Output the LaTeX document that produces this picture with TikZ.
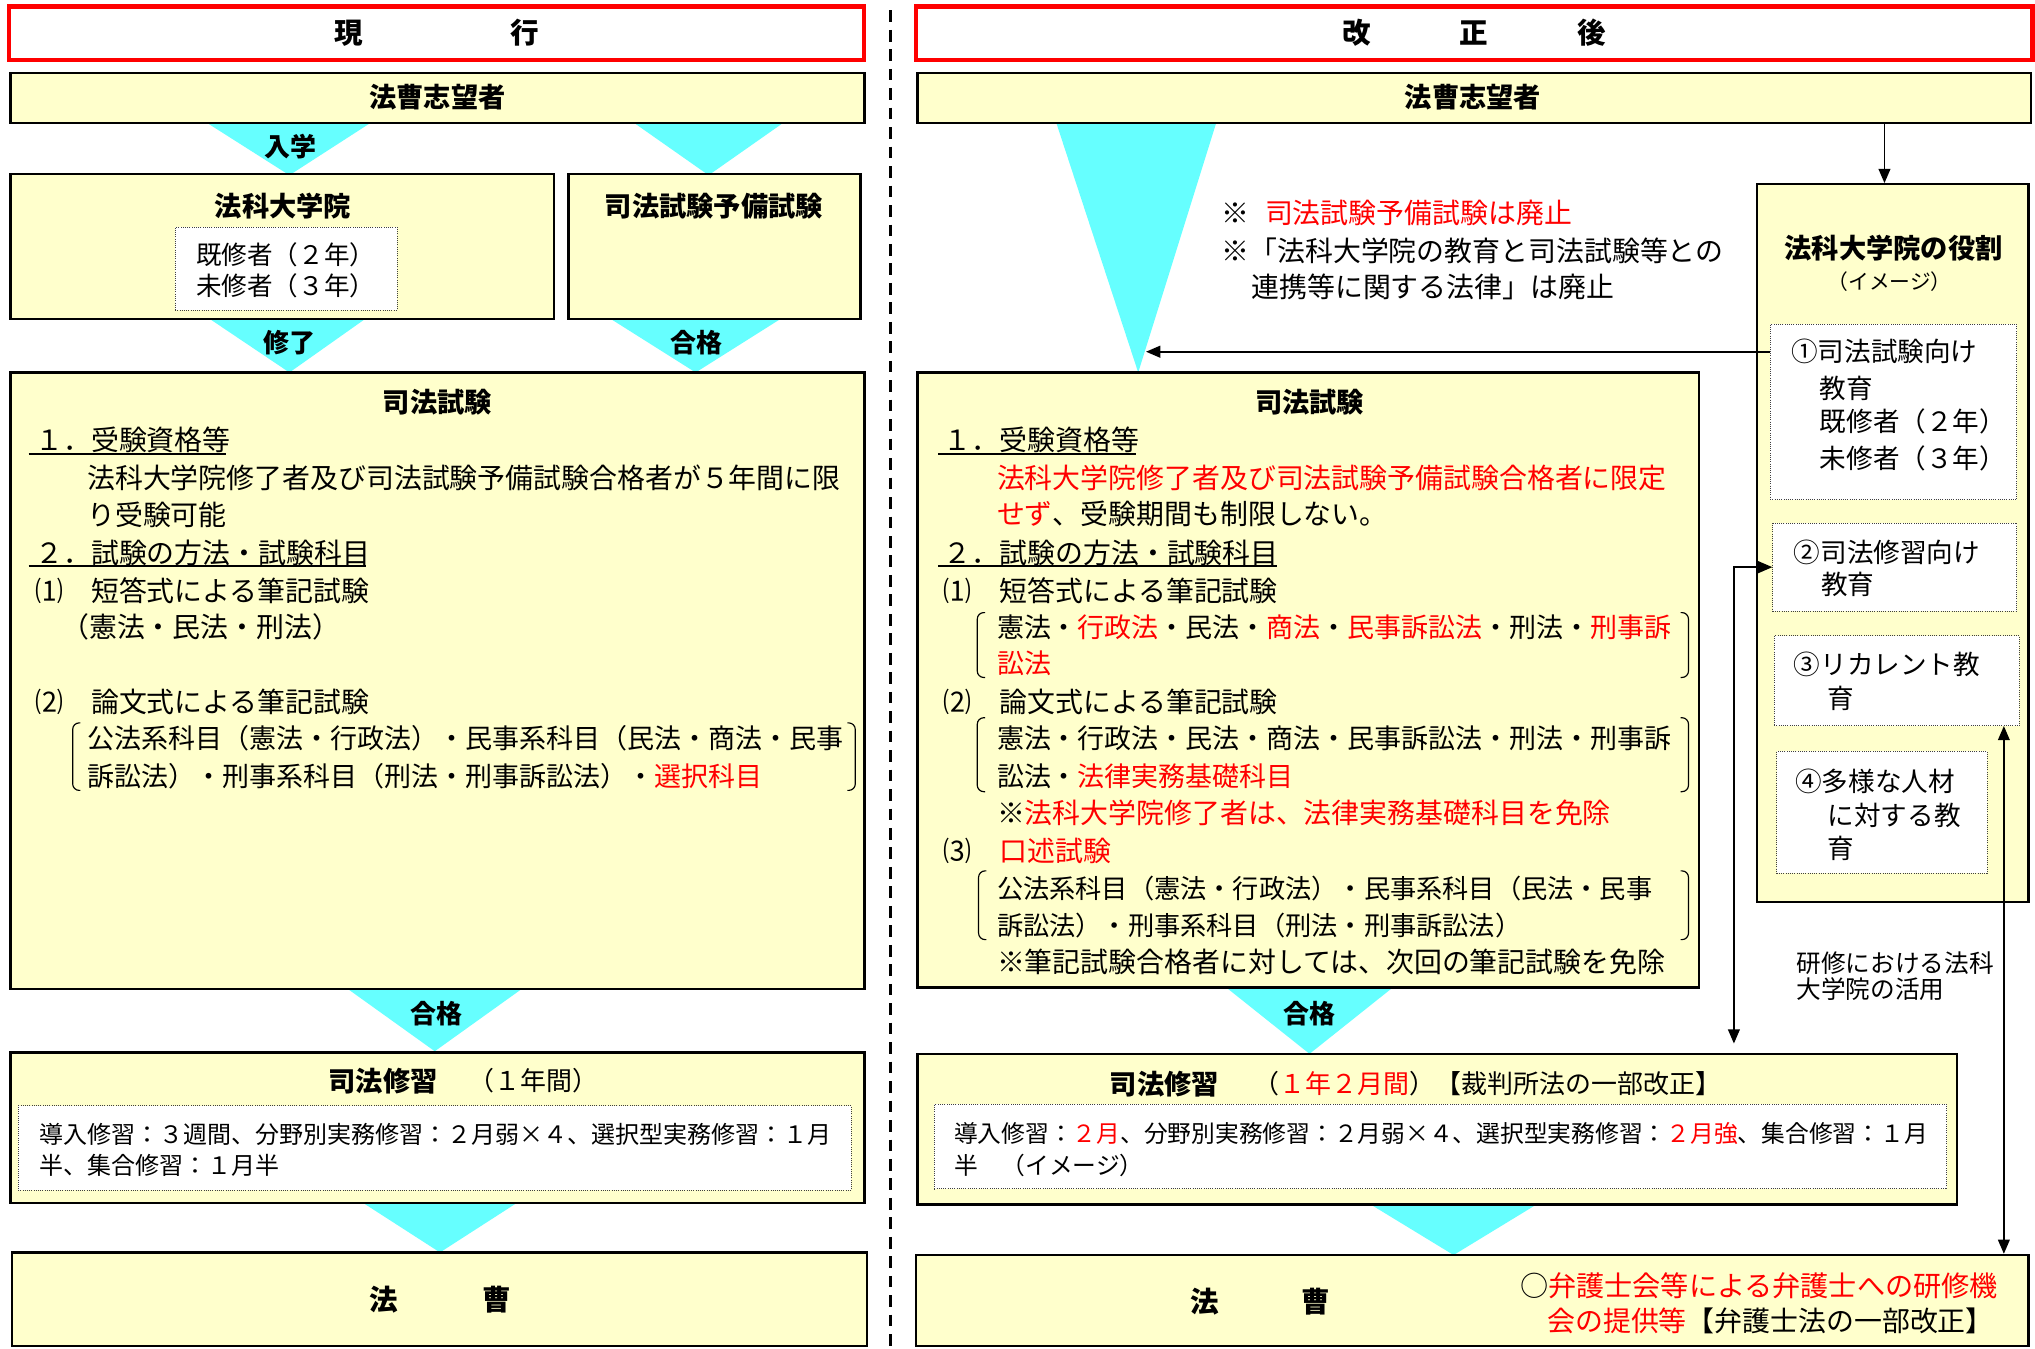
\documentclass[tikz,border=0pt]{standalone}
\usepackage{fontspec}
\setmainfont{Noto Sans CJK JP}
\usetikzlibrary{arrows.meta,fit,calc}
\definecolor{yfill}{HTML}{FFFFCC}
\definecolor{cyT}{HTML}{66FFFF}
\newcommand\fsz[1]{\fontsize{#1pt}{#1pt}\selectfont}
\newcommand\mkbox[6]{\node[#2, fit={(#3,#4) (#5,#6)}] (#1) {};}
\newcommand\tline[5]{\node[anchor=base west, inner sep=0pt, font=\fsz{#4}] (#1) at ({#2},{#3+0.38*#4}) {#5};}
\newcommand\tcen[5]{\node[anchor=base, inner sep=0pt, font=\bfseries\fsz{#4}] (#1) at ({#2},{#3+0.38*#4}) {#5};}
\newcommand\mkbrk[4]{%
  \draw[line width=0.9pt, rounded corners=5pt] ({#1+6},#3) -- (#1,#3) -- (#1,#4) -- ({#1+6},#4);
  \draw[line width=0.9pt, rounded corners=5pt] ({#2-6},#3) -- (#2,#3) -- (#2,#4) -- ({#2-6},#4);}
\begin{document}
\begin{tikzpicture}[x=1pt,y=-1pt,
  ybox/.style={draw=black, line width=1.8pt, fill=yfill, inner sep=0pt},
  redbox/.style={draw=red, line width=3.2pt, fill=white, inner sep=0pt},
  dotbox/.style={draw=black!75, densely dotted, line width=0.7pt, fill=white, inner sep=0pt},
  tri/.style={fill=cyT, draw=none},
  arr/.style={line width=1.5pt, -{Triangle[length=11pt,width=9pt]}},
  arrb/.style={line width=1.5pt, {Triangle[length=11pt,width=9pt]}-{Triangle[length=11pt,width=9pt]}},
  ul/.style={line width=1.4pt}]
\useasboundingbox (0,0) rectangle (1568,1039);
\fill[white] (0,0) rectangle (1568,1039);

% ---------- triangles (flow) ----------
\fill[tri] (160,95) -- (285,95) -- (223,135) -- cycle;
\fill[tri] (489,95) -- (603,95) -- (546,135) -- cycle;
\fill[tri] (162,246) -- (281,246) -- (223,287) -- cycle;
\fill[tri] (471,246) -- (601,246) -- (536,287) -- cycle;
\fill[tri] (268,762) -- (402,762) -- (335,810) -- cycle;
\fill[tri] (280,927) -- (398,927) -- (339,965) -- cycle;
\fill[tri] (814,95) -- (937,95) -- (877,287) -- cycle;
\fill[tri] (945,761) -- (1073,761) -- (1009,812) -- cycle;
\fill[tri] (1056,928) -- (1184,928) -- (1120,967) -- cycle;

% ---------- divider ----------
\draw[line width=2.5pt, dash pattern=on 9pt off 6pt] (686,8) -- (686,1039);

% ---------- boxes ----------
\mkbox{hdrL}{redbox}{7}{5}{666}{46}
\mkbox{hdrR}{redbox}{706}{5}{1566}{46}
\mkbox{aspL}{ybox}{8}{56}{666}{95}
\mkbox{aspR}{ybox}{707}{56}{1565}{95}
\mkbox{lsL}{ybox}{8}{134}{427}{246}
\mkbox{lsIn}{dotbox}{135}{175}{306}{239}
\mkbox{yobi}{ybox}{438}{134}{663}{246}
\mkbox{exL}{ybox}{8}{287}{666}{762}
\mkbox{trL}{ybox}{8}{811}{666}{927}
\mkbox{trLin}{dotbox}{14}{852}{656}{917}
\mkbox{hoL}{ybox}{9}{965}{668}{1037}
\mkbox{exR}{ybox}{707}{287}{1309}{761}
\mkbox{trR}{ybox}{707}{812}{1508}{928}
\mkbox{trRin}{dotbox}{720}{851}{1500}{916}
\mkbox{hoR}{ybox}{706}{967}{1563}{1037}
\mkbox{role}{ybox}{1354}{142}{1563}{695}
\mkbox{r1}{dotbox}{1364}{250}{1554}{385}
\mkbox{r2}{dotbox}{1366}{403}{1554}{471}
\mkbox{r3}{dotbox}{1367}{490}{1556}{559}
\mkbox{r4}{dotbox}{1369}{579}{1531}{673}

% ---------- headers ----------
\node[inner sep=0pt, font=\bfseries\fsz{22}] (tHdrL) at (hdrL.center) {現\hspace{114pt}行};
\node[inner sep=0pt, font=\bfseries\fsz{22}] (tHdrR) at (hdrR.center) {改\hspace{68pt}正\hspace{69pt}後};
\tcen{tAspL}{337}{75}{21}{法曹志望者}
\tcen{tAspR}{1135}{75}{21}{法曹志望者}

% triangle labels
\tcen{lbA}{224}{113}{20}{入学}
\tcen{lbB}{223}{264}{20}{修了}
\tcen{lbC}{537}{264}{20}{合格}
\tcen{lbD}{336}{781}{20}{合格}
\tcen{lbE}{1009}{781}{20}{合格}

% ---------- left column ----------
\tcen{tLs}{218}{159}{21}{法科大学院}
\tline{tLs1}{151}{196}{19.7}{既修者（２年）}
\tline{tLs2}{151}{220}{19.7}{未修者（３年）}
\tcen{tYobi}{550}{159}{21}{司法試験予備試験}

\tcen{tExL}{337}{310}{21}{司法試験}
\tline{l1}{27}{339}{21.5}{１．受験資格等}
\tline{l2}{67}{368}{21.5}{法科大学院修了者及び司法試験予備試験合格者が５年間に限}
\tline{l3}{67}{397}{21.5}{り受験可能}
\tline{l4}{27}{426}{21.5}{２．試験の方法・試験科目}
\tline{l5}{27}{455}{21.5}{⑴　短答式による筆記試験}
\tline{l6}{47}{483}{21.5}{（憲法・民法・刑法）}
\tline{l7}{27}{541}{21.5}{⑵　論文式による筆記試験}
\tline{l8}{67}{569}{20.8}{公法系科目（憲法・行政法）・民事系科目（民法・商法・民事}
\tline{l9}{67}{598}{20.8}{訴訟法）・刑事系科目（刑法・刑事訴訟法）・\textcolor{red}{選択科目}}
\draw[ul] (22,350) -- (174,350);
\draw[ul] (22,436) -- (282,436);
\mkbrk{56}{659}{557}{609}

\tline{tTrL}{253}{833}{21}{\bfseries 司法修習}
\tline{tTrL2}{361}{833}{20}{（１年間）}
\tline{trL1}{30}{874}{18.5}{導入修習：３週間、分野別実務修習：２月弱×４、選択型実務修習：１月}
\tline{trL2}{30}{898}{18.5}{半、集合修習：１月半}

\node[inner sep=0pt, font=\bfseries\fsz{22}] (tHoL) at (339.5,1001) {法\hspace{65pt}曹};

% ---------- right column ----------
\tline{n1}{941}{164}{21.5}{※\hspace{12pt}\textcolor{red}{司法試験予備試験は廃止}}
\tline{n2}{941}{193}{21.5}{※「法科大学院の教育と司法試験等との}
\tline{n3}{964}{221}{21.5}{連携等に関する法律」は廃止}

\tcen{tRole}{1459}{191}{21}{法科大学院の役割}
\node[inner sep=0pt, font=\fsz{16}] (tRole2) at (1456,217) {（イメージ）};
\tline{r1a}{1380}{271}{20.5}{①司法試験向け}
\tline{r1b}{1402}{299}{20.5}{教育}
\tline{r1c}{1402}{325}{20.5}{既修者（２年）}
\tline{r1d}{1402}{353}{20.5}{未修者（３年）}
\tline{r2a}{1382}{426}{20.5}{②司法修習向け}
\tline{r2b}{1403}{450}{20.5}{教育}
\tline{r3a}{1382}{512}{20.5}{③リカレント教}
\tline{r3b}{1408}{538}{20.5}{育}
\tline{r4a}{1383}{602}{20.5}{④多様な人材}
\tline{r4b}{1408}{628}{20.5}{に対する教}
\tline{r4c}{1408}{654}{20.5}{育}

\tcen{tExR}{1009}{310}{21}{司法試験}
\tline{m1}{727}{339}{21.5}{１．受験資格等}
\tline{m2}{768}{368}{21.5}{\textcolor{red}{法科大学院修了者及び司法試験予備試験合格者に限定}}
\tline{m3}{768}{396}{21.5}{\textcolor{red}{せず}、受験期間も制限しない。}
\tline{m4}{727}{426}{21.5}{２．試験の方法・試験科目}
\tline{m5}{727}{455}{21.5}{⑴　短答式による筆記試験}
\tline{m6}{768}{483}{20.8}{憲法・\textcolor{red}{行政法}・民法・\textcolor{red}{商法}・\textcolor{red}{民事訴訟法}・刑法・\textcolor{red}{刑事訴}}
\tline{m7}{768}{511}{20.8}{\textcolor{red}{訟法}}
\tline{m8}{727}{541}{21.5}{⑵　論文式による筆記試験}
\tline{m9}{768}{569}{20.8}{憲法・行政法・民法・商法・民事訴訟法・刑法・刑事訴}
\tline{m10}{768}{598}{20.8}{訟法・\textcolor{red}{法律実務基礎科目}}
\tline{m11}{768}{626}{21.5}{※\textcolor{red}{法科大学院修了者は、法律実務基礎科目を免除}}
\tline{m12}{727}{656}{21.5}{⑶　\textcolor{red}{口述試験}}
\tline{m13}{768}{685}{20.2}{公法系科目（憲法・行政法）・民事系科目（民法・民事}
\tline{m14}{768}{713}{20.2}{訴訟法）・刑事系科目（刑法・刑事訴訟法）}
\tline{m15}{768}{741}{21.5}{※筆記試験合格者に対しては、次回の筆記試験を免除}
\draw[ul] (723,350) -- (875,350);
\draw[ul] (723,436) -- (984,436);
\mkbrk{753}{1301}{472}{522}
\mkbrk{753}{1301}{553}{610}
\mkbrk{754}{1301}{671}{724}

\tline{tTrR}{855}{835}{21}{\bfseries 司法修習}
\tline{tTrR2}{966}{835}{20}{（\textcolor{red}{１年２月間}）【裁判所法の一部改正】}
\tline{trR1}{735}{873}{18.3}{導入修習：\textcolor{red}{２月}、分野別実務修習：２月弱×４、選択型実務修習：\textcolor{red}{２月強}、集合修習：１月}
\tline{trR2}{735}{898}{18.3}{半　（イメージ）}

\node[inner sep=0pt, font=\bfseries\fsz{22}] (tHoR) at (971,1003) {法\hspace{64pt}曹};
\tline{hoR1}{1171}{991}{21.7}{○\textcolor{red}{弁護士会等による弁護士への研修機}}
\tline{hoR2}{1192}{1018}{21.5}{\textcolor{red}{会の提供等}【弁護士法の一部改正】}

\tline{lbK1}{1384}{742}{19}{研修における法科}
\tline{lbK2}{1384}{762}{19}{大学院の活用}

% ---------- arrows ----------
\coordinate (a1) at (1452,0);
\draw[arr] (a1 |- aspR.south) -- (a1 |- role.north);
\coordinate (a2e) at (883,271);
\draw[arr] (r1.west |- a2e) -- (a2e);
\coordinate (v2) at (1336,437);
\draw[arrb, shorten >=7pt] (r2.west) -- (v2) -- (v2 |- trR.north);
\coordinate (v3) at (1544,0);
\draw[arrb] (v3 |- r3.south) -- (v3 |- hoR.north);
\end{tikzpicture}
\end{document}
